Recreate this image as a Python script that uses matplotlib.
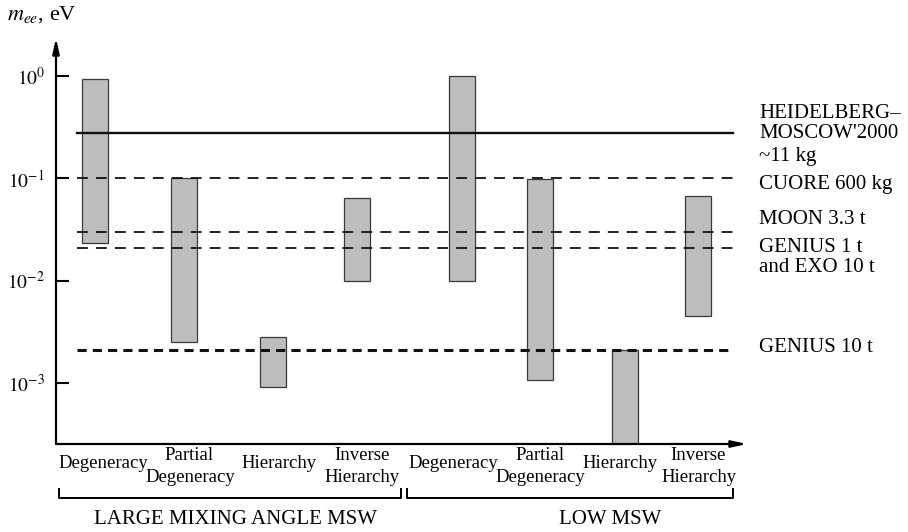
import numpy as np
import matplotlib
matplotlib.use("Agg")
import matplotlib.pyplot as plt

plt.rcParams['font.family'] = ['Liberation Serif', 'DejaVu Serif']
plt.rcParams['mathtext.fontset'] = 'stix'

# bar ranges of m_ee (eV), LMA MSW then LOW MSW
bar_pos = [0.56, 1.85, 3.14, 4.36, 5.88, 7.0, 8.23, 9.29]
bar_top = [0.95, 0.1, 0.0028, 0.065, 1.0, 0.098, 0.0021, 0.068]
bar_bottom = [0.0235, 0.0025, 0.00091, 0.01, 0.01, 0.00107, 2.5e-4, 0.0045]

# experiment sensitivity lines
line_vals = [0.28, 0.1, 0.030, 0.021, 0.0021]
line_styles = ['solid', 'dashed', 'dashed', 'dashed', 'dashed']
line_widths = [1.7, 1.3, 1.3, 1.3, 2.2]

exp_labels = ["HEIDELBERG\u2013", "MOSCOW'2000", "~11 kg", "CUORE 600 kg",
              "MOON 3.3 t", "GENIUS 1 t", "and EXO 10 t", "GENIUS 10 t"]
exp_label_y = [113, 134, 157, 185, 220, 247, 268, 347]

tick_vals = [1, 0.1, 0.01, 0.001]
tick_labels = [r'$10^{0}$', r'$10^{-1}$', r'$10^{-2}$', r'$10^{-3}$']

W, H = 908, 532
fig = plt.figure(figsize=(W / 100, H / 100), dpi=100)
ax = fig.add_axes([56 / W, (H - 444) / H, (747 - 56) / W, (444 - 38) / H])
ax.set_yscale('log')
ax.set_ylim(2.5e-4, 2.38)
ax.set_xlim(0, 10)

for x, t, b in zip(bar_pos, bar_top, bar_bottom):
    ax.bar(x, t - b, bottom=b, width=0.38, color='#bdbdbd',
           edgecolor='#3a3a3a', linewidth=0.9, zorder=2)

for v, ls, lw in zip(line_vals, line_styles, line_widths):
    if ls == 'solid':
        ax.plot([0.3, 9.8], [v, v], color='#111', lw=lw, zorder=3)
    elif lw > 2:
        ax.plot([0.3, 9.8], [v, v], color='#111', lw=lw, zorder=3,
                dashes=(3, 2))
    else:
        ax.plot([0.3, 9.8], [v, v], color='#111', lw=lw, zorder=3,
                dashes=(6, 4.5))

for s in ax.spines.values():
    s.set_visible(False)
ax.annotate('', xy=(0, 1), xytext=(0, 0), xycoords='axes fraction',
            arrowprops=dict(arrowstyle='-|>,head_length=0.9,head_width=0.2',
                            color='black', lw=1.6, shrinkA=0, shrinkB=0))
ax.annotate('', xy=(1, 0), xytext=(0, 0), xycoords='axes fraction',
            arrowprops=dict(arrowstyle='-|>,head_length=0.9,head_width=0.2',
                            color='black', lw=1.6, shrinkA=0, shrinkB=0))

ax.set_yticks(tick_vals)
ax.set_yticklabels(tick_labels, fontsize=14)
ax.yaxis.set_minor_locator(matplotlib.ticker.NullLocator())
ax.tick_params(axis='y', direction='in', length=9, width=1.5, pad=8)
ax.set_xticks([])

fig.text(7 / W, 1 - 20 / H, r'$m_{ee}$, eV', fontsize=16, va='baseline')

for lab, y in zip(exp_labels, exp_label_y):
    fig.text(759 / W, 1 - y / H, lab, fontsize=15, va='center')

# category labels under the axis
cats = [(103, 463, 'Degeneracy'), (189, 455, 'Partial'), (190, 478, 'Degeneracy'),
        (279, 463, 'Hierarchy'), (362, 455, 'Inverse'), (362, 478, 'Hierarchy'),
        (453, 463, 'Degeneracy'), (540, 455, 'Partial'), (540, 478, 'Degeneracy'),
        (620, 463, 'Hierarchy'), (698, 455, 'Inverse'), (699, 478, 'Hierarchy')]
for x, y, t in cats:
    fig.text(x / W, 1 - y / H, t, fontsize=13.5, ha='center', va='center')

# group brackets
for x0, x1 in [(59, 401), (407, 733)]:
    fig.add_artist(plt.Line2D([x0 / W, x0 / W, x1 / W, x1 / W],
                              [1 - 489 / H, 1 - 498 / H, 1 - 498 / H, 1 - 489 / H],
                              color='black', lw=1.4))
fig.text(235 / W, 1 - 519 / H, 'LARGE MIXING ANGLE MSW', fontsize=15,
         ha='center', va='center')
fig.text(610 / W, 1 - 519 / H, 'LOW MSW', fontsize=15, ha='center', va='center')

fig.savefig('out.png', dpi=100)
